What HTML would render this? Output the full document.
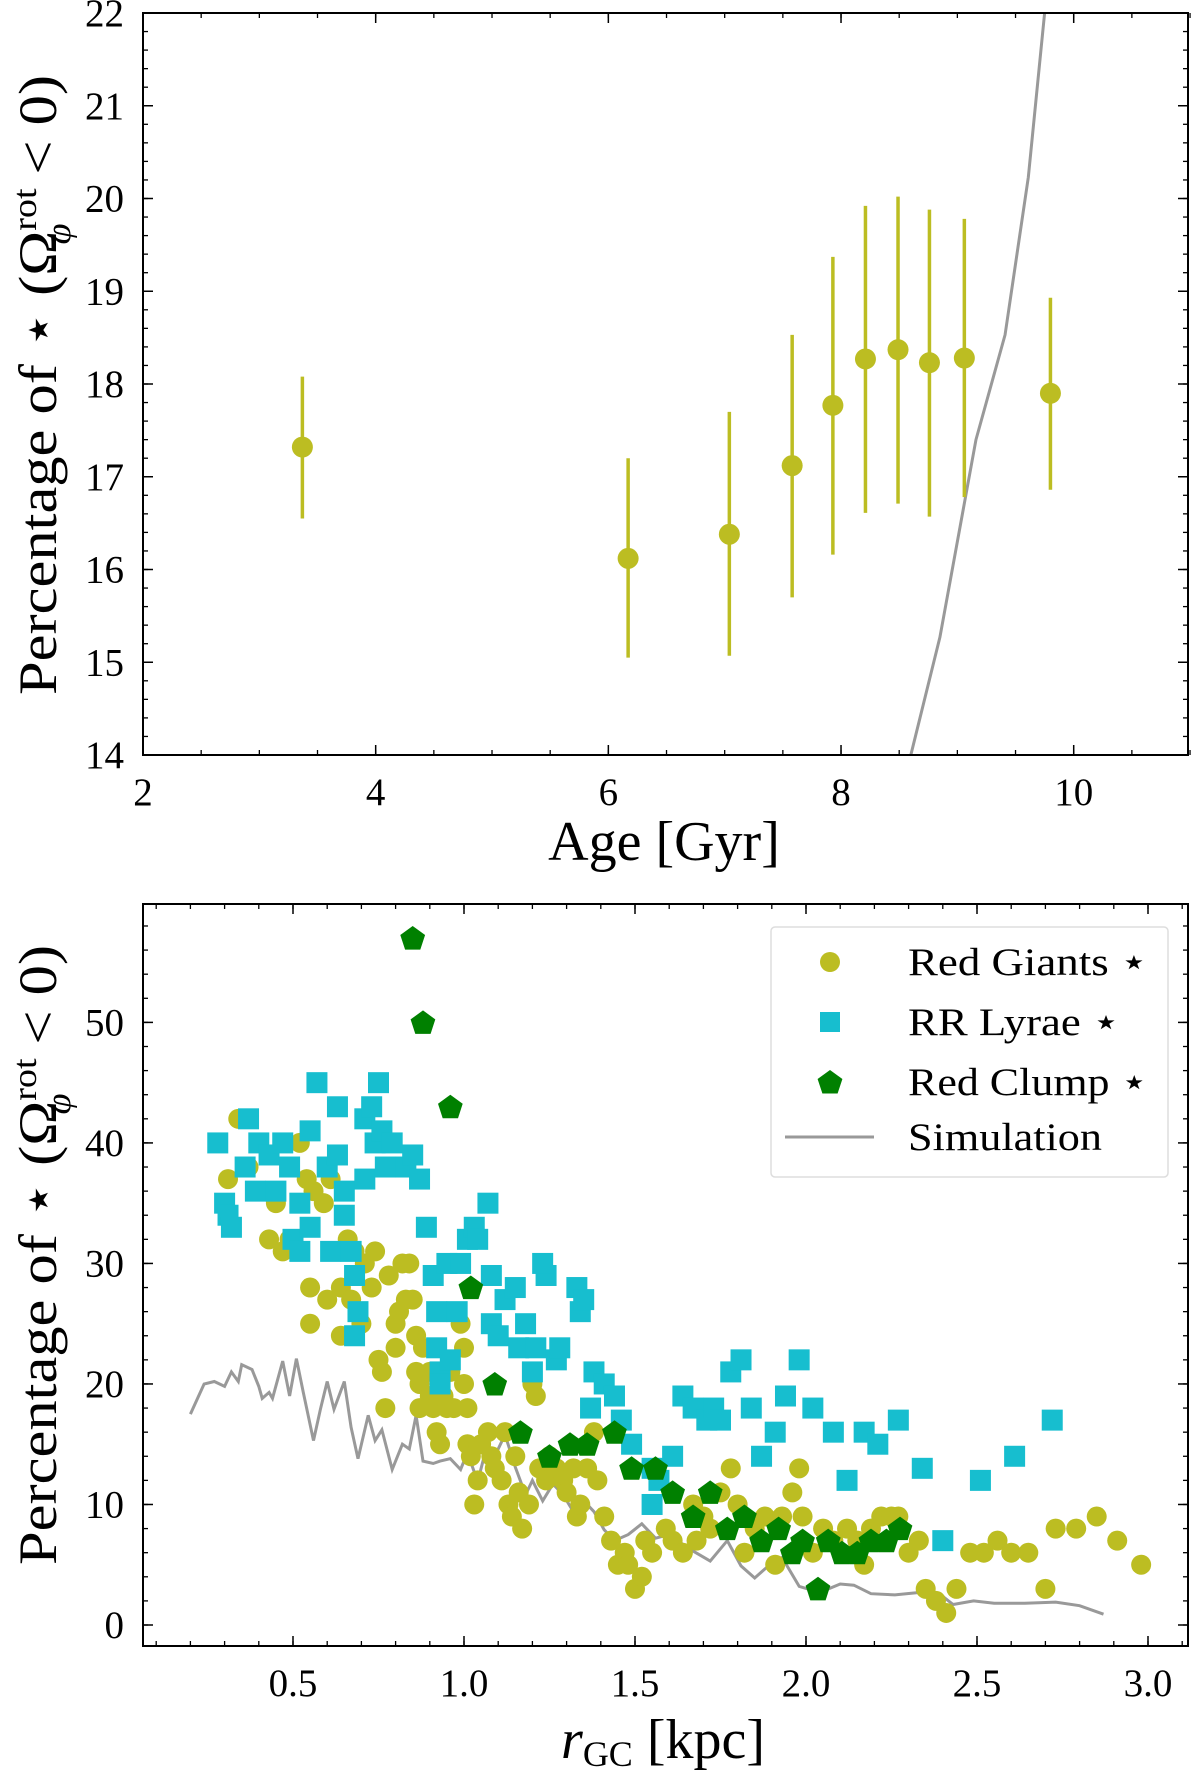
<!DOCTYPE html>
<html><head><meta charset="utf-8"><style>
html,body{margin:0;padding:0;background:#fff}
svg{display:block;font-family:"Liberation Serif","DejaVu Serif",serif}
</style></head><body>
<svg id="fig" width="1200" height="1773" viewBox="0 0 1200 1773" xmlns="http://www.w3.org/2000/svg">
<g id="top"></g>
<g id="bot"></g>
</svg>
<script>
// ---- Top panel data ----
const ageX = [3.37, 6.17, 7.04, 7.58, 7.93, 8.21, 8.49, 8.76, 9.06, 9.80];
const ageY = [17.32, 16.12, 16.38, 17.12, 17.77, 18.27, 18.37, 18.23, 18.28, 17.9];
const ageLo = [16.55, 15.05, 15.07, 15.7, 16.16, 16.61, 16.71, 16.57, 16.78, 16.86];
const ageHi = [18.08, 17.2, 17.7, 18.53, 19.37, 19.92, 20.02, 19.88, 19.78, 18.93];
const simAgeX = [8.6, 8.85, 9.16, 9.41, 9.61, 9.75];
const simAgeY = [14.0, 15.27, 17.4, 18.53, 20.23, 22.0];
const topXTicks = [2, 4, 6, 8, 10];
const topYTicks = [14, 15, 16, 17, 18, 19, 20, 21, 22];

// ---- Bottom panel data ----
const rgX = [0.31,0.34,0.37,0.43,0.45,0.47,0.49,0.52,0.54,0.55,0.55,0.56,0.59,0.60,0.61,0.63,0.64,0.64,0.66,0.67,0.68,0.70,0.71,0.73,0.74,0.75,0.76,0.77,0.78,0.80,0.80,0.81,0.82,0.83,0.84,0.85,0.86,0.86,0.87,0.87,0.88,0.90,0.90,0.91,0.92,0.93,0.94,0.95,0.96,0.97,0.99,1.00,1.00,1.01,1.01,1.02,1.03,1.04,1.05,1.07,1.08,1.09,1.11,1.12,1.13,1.14,1.15,1.16,1.17,1.19,1.20,1.21,1.22,1.24,1.25,1.27,1.29,1.30,1.32,1.33,1.34,1.36,1.38,1.39,1.41,1.43,1.45,1.47,1.48,1.50,1.52,1.53,1.55,1.59,1.61,1.64,1.67,1.68,1.70,1.72,1.75,1.78,1.80,1.82,1.85,1.88,1.91,1.93,1.96,1.98,1.99,2.02,2.05,2.08,2.12,2.15,2.17,2.19,2.22,2.25,2.27,2.30,2.33,2.35,2.38,2.41,2.44,2.48,2.52,2.56,2.60,2.65,2.70,2.73,2.79,2.85,2.91,2.98];
const rgY = [37,42,38,32,35,31,32,40,37,28,25,36,35,27,37,31,28,24,32,27,31,25,30,28,31,22,21,18,29,25,23,26,30,27,30,27,24,21,18,20,23,21,19,18,16,15,19,18,21,18,25,23,20,18,15,14,10,12,15,16,14,13,12,16,10,9,14,11,8,10,20,19,13,12,14,13,12,11,13,9,10,13,16,12,9,7,5,6,5,3,4,7,6,8,7,6,10,7,9,8,11,13,10,6,8,9,5,9,11,13,9,6,8,7,8,7,5,8,9,9,9,6,7,3,2,1,3,6,6,7,6,6,3,8,8,9,7,5];
const rrX = [0.28,0.30,0.31,0.32,0.36,0.37,0.40,0.43,0.39,0.45,0.47,0.49,0.50,0.52,0.55,0.52,0.55,0.57,0.60,0.61,0.63,0.63,0.65,0.65,0.67,0.68,0.69,0.68,0.71,0.71,0.73,0.75,0.74,0.76,0.77,0.79,0.83,0.85,0.87,0.89,0.91,0.92,0.92,0.93,0.93,0.96,0.95,0.98,0.99,1.01,1.03,1.04,1.07,1.08,1.08,1.10,1.12,1.15,1.18,1.20,1.16,1.21,1.24,1.23,1.27,1.28,1.33,1.34,1.35,1.38,1.41,1.37,1.44,1.46,1.49,1.55,1.55,1.57,1.61,1.64,1.67,1.71,1.73,1.75,1.78,1.81,1.84,1.87,1.91,1.94,1.98,2.02,2.08,2.12,2.17,2.21,2.27,2.34,2.40,2.51,2.61,2.72];
const rrY = [40,35,34,33,38,42,40,39,36,36,40,38,32,35,33,31,41,45,38,31,43,39,36,34,31,29,26,24,42,37,43,45,40,41,38,40,38,39,37,33,29,26,23,21,20,22,30,26,30,32,33,32,35,29,25,24,27,28,25,21,23,23,29,30,22,23,28,26,27,21,20,18,19,17,15,13,10,12,14,19,18,17,18,17,21,22,18,14,16,19,22,18,16,12,16,15,17,13,7,12,14,17];
const rcX = [0.85,0.88,0.96,1.02,1.09,1.165,1.25,1.31,1.36,1.44,1.49,1.56,1.61,1.67,1.72,1.77,1.82,1.87,1.92,1.96,1.99,2.035,2.065,2.105,2.15,2.19,2.235,2.275];
const rcY = [57,50,43,28,20,16,14,15,15,16,13,13,11,9,11,8,9,7,8,6,7,3,7,6,6,7,7,8];
const simRX = [0.20,0.24,0.27,0.30,0.32,0.34,0.35,0.38,0.40,0.41,0.43,0.44,0.47,0.49,0.51,0.53,0.56,0.58,0.60,0.62,0.65,0.67,0.69,0.72,0.74,0.76,0.79,0.82,0.84,0.86,0.88,0.91,0.93,0.96,0.99,1.01,1.04,1.06,1.10,1.12,1.15,1.18,1.20,1.23,1.26,1.29,1.32,1.34,1.38,1.41,1.44,1.48,1.52,1.56,1.60,1.66,1.72,1.77,1.81,1.85,1.89,1.93,1.98,2.04,2.10,2.14,2.19,2.26,2.33,2.39,2.43,2.49,2.55,2.64,2.73,2.80,2.87];
const simRY = [17.5,20,20.2,19.8,21,20.2,21.6,21.2,19.8,18.8,19.3,18.8,21.9,19,22.1,19.3,15.3,17.9,20.2,17.9,20.2,16.4,13.8,17.4,15.3,16.2,12.9,15,14.6,17.4,13.6,13.4,13.6,13.8,12.9,14.3,11.9,14.1,14.6,15.8,13.1,10.8,12,10.3,11.7,10.8,9.4,10.6,9.4,7.9,7,7.5,8.4,7.2,7.5,6.3,5.3,7,4.9,3.9,4.9,5.6,3.2,2.7,3.4,3.3,2.6,2.5,2.7,2.6,1.7,2,1.8,1.8,1.9,1.6,0.9];
const botXTicks = [0.5, 1.0, 1.5, 2.0, 2.5, 3.0];
const botYTicks = [0, 10, 20, 30, 40, 50];

const NS = "http://www.w3.org/2000/svg";
function mk(parent, tag, attrs, text) {
  const el = document.createElementNS(NS, tag);
  for (const k in attrs) el.setAttribute(k, attrs[k]);
  if (text !== undefined) el.textContent = text;
  parent.appendChild(el);
  return el;
}
const OLIVE = "#bcbd22", CYAN = "#17becf", GREEN = "#008000", GREY = "#999999";

function lin(d0, d1, p0, p1) { return v => p0 + (v - d0) * (p1 - p0) / (d1 - d0); }

function frame(g, L, T, R, B, xs, ys, xMin, xMax, xMinorStep, yMin, yMax, yMinorStep, xt, yt, xfmt) {
  for (let v = Math.ceil(xMin / xMinorStep) * xMinorStep; v <= xMax + 1e-9; v += xMinorStep) {
    const x = xs(v);
    let t = mk(g, "line", {x1: x, x2: x, y1: B, y2: B - 5, stroke: "#000", "stroke-width": 1.3});
     
    t = mk(g, "line", {x1: x, x2: x, y1: T, y2: T + 5, stroke: "#000", "stroke-width": 1.3});
     
  }
  for (let v = Math.ceil(yMin / yMinorStep) * yMinorStep; v <= yMax + 1e-9; v += yMinorStep) {
    const y = ys(v);
    let t = mk(g, "line", {x1: L, x2: L + 5, y1: y, y2: y, stroke: "#000", "stroke-width": 1.3});
     
    t = mk(g, "line", {x1: R, x2: R - 5, y1: y, y2: y, stroke: "#000", "stroke-width": 1.3});
     
  }
  xt.forEach(v => {
    const x = xs(v);
    let t = mk(g, "line", {x1: x, x2: x, y1: B, y2: B - 10, stroke: "#000", "stroke-width": 1.5});
     
    t = mk(g, "line", {x1: x, x2: x, y1: T, y2: T + 10, stroke: "#000", "stroke-width": 1.5});
     
    t = mk(g, "text", {x: x, y: B + 50, "text-anchor": "middle", "font-size": 39}, xfmt(v));
     
  });
  yt.forEach(v => {
    const y = ys(v);
    let t = mk(g, "line", {x1: L, x2: L + 10, y1: y, y2: y, stroke: "#000", "stroke-width": 1.5});
     
    t = mk(g, "line", {x1: R, x2: R - 10, y1: y, y2: y, stroke: "#000", "stroke-width": 1.5});
     
    t = mk(g, "text", {x: L - 19, y: y + 13, "text-anchor": "end", "font-size": 39}, String(v));
     
  });
}

function ylabel(g, cx, cy, len) {
  const t = mk(g, "text", {transform: `translate(${cx},${cy}) rotate(-90)`, "text-anchor": "middle", "font-size": 54, textLength: len, lengthAdjust: "spacingAndGlyphs"});
   
  t.appendChild(document.createTextNode("Percentage of \u22C6 (\u03A9"));
  mk(t, "tspan", {"font-size": 34, dy: -20}, "rot");
  mk(t, "tspan", {"font-size": 34, dy: 34, dx: -50, "font-style": "italic"}, "\u03C6");
  mk(t, "tspan", {dy: -14, dx: 30}, " < 0)");
}

function pent(cx, cy, r) {
  let pts = [];
  for (let i = 0; i < 5; i++) { const a = -Math.PI / 2 + i * 2 * Math.PI / 5; pts.push((cx + r * Math.cos(a)).toFixed(1) + "," + (cy + r * Math.sin(a)).toFixed(1)); }
  return pts.join(" ");
}

// ---- Top panel ----
(function () {
  const g = document.getElementById("top");
  const L = 143, R = 1188, T = 13, B = 755;
  const xs = lin(2, 11, L, L + 9 * (1073.7 - 143) / 8);
  const ys = lin(14, 22, B, T);
  mk(g, "defs", {}).innerHTML = `<clipPath id="ct"><rect x="${L}" y="${T}" width="${R - L}" height="${B - T}"/></clipPath>`;
  const pg = mk(g, "g", {"clip-path": "url(#ct)"});
  const sim = mk(pg, "polyline", {points: simAgeX.map((v, i) => xs(v) + "," + ys(simAgeY[i])).join(" "), fill: "none", stroke: GREY, "stroke-width": 3});
   
  ageX.forEach((v, i) => {
    const e = mk(pg, "line", {x1: xs(v), x2: xs(v), y1: ys(ageLo[i]), y2: ys(ageHi[i]), stroke: OLIVE, "stroke-width": 3.5});
     
    const c = mk(pg, "circle", {cx: xs(v), cy: ys(ageY[i]), r: 10.5, fill: OLIVE});
     
  });
  const fr = mk(g, "rect", {x: L, y: T, width: R - L, height: B - T, fill: "none", stroke: "#000", "stroke-width": 2});
   
  frame(g, L, T, R, B, xs, ys, 2, 11, 0.5, 14, 22, 0.2, topXTicks, topYTicks, v => String(v));
  const xl = mk(g, "text", {x: 664, y: 860, "text-anchor": "middle", "font-size": 56}, "Age [Gyr]");
   
  ylabel(g, 56, 385, 620);
})();

// ---- Bottom panel ----
(function () {
  const g = document.getElementById("bot");
  const L = 143, R = 1188, T = 904, B = 1646;
  const xs = lin(0.5, 3.0, 293, 1148);
  const ys = lin(0, 50, 1625, 1022.4);
  mk(g, "defs", {}).innerHTML = `<clipPath id="cb"><rect x="${L}" y="${T}" width="${R - L}" height="${B - T}"/></clipPath>`;
  const pg = mk(g, "g", {"clip-path": "url(#cb)"});
  const sim = mk(pg, "polyline", {points: simRX.map((v, i) => xs(v).toFixed(1) + "," + ys(simRY[i]).toFixed(1)).join(" "), fill: "none", stroke: GREY, "stroke-width": 3});
   
  rgX.forEach((v, i) => {
    const c = mk(pg, "circle", {cx: xs(v), cy: ys(rgY[i]), r: 10, fill: OLIVE});
     
  });
  rrX.forEach((v, i) => {
    const s = mk(pg, "rect", {x: xs(v) - 10.5, y: ys(rrY[i]) - 10.5, width: 21, height: 21, fill: CYAN});
     
  });
  rcX.forEach((v, i) => {
    const p = mk(pg, "polygon", {points: pent(xs(v), ys(rcY[i]) + 1, 13), fill: GREEN});
     
  });
  const fr = mk(g, "rect", {x: L, y: T, width: R - L, height: B - T, fill: "none", stroke: "#000", "stroke-width": 2});
   
  frame(g, L, T, R, B, xs, ys, 0.07, 3.11, 0.1, -1.7, 59.7, 2, botXTicks, botYTicks, v => v.toFixed(1));
  // legend
  const lg = mk(g, "g", {});
   
  mk(lg, "rect", {x: 771, y: 927, width: 397, height: 250, rx: 4, fill: "#fff", "fill-opacity": 0.85, stroke: "#ddd", "stroke-width": 1.5});
  const items = [["Red Giants \u22C6", 962, 240], ["RR Lyrae \u22C6", 1022, 212], ["Red Clump \u22C6", 1082, 240], ["Simulation", 1137, 194]];
  let e = mk(lg, "circle", {cx: 830, cy: 962, r: 10, fill: OLIVE});
   
  e = mk(lg, "rect", {x: 820, y: 1012, width: 20, height: 20, fill: CYAN});
   
  e = mk(lg, "polygon", {points: pent(830, 1083, 13), fill: GREEN});
   
  e = mk(lg, "line", {x1: 785, x2: 874, y1: 1137, y2: 1137, stroke: GREY, "stroke-width": 3});
   
  items.forEach(it => {
    const t = mk(lg, "text", {x: 908, y: it[1] + 13, "font-size": 39, textLength: it[2], lengthAdjust: "spacingAndGlyphs"}, it[0]);
     
  });
  const xl = mk(g, "text", {x: 663, y: 1758, "text-anchor": "middle", "font-size": 56});
   
  mk(xl, "tspan", {"font-style": "italic"}, "r");
  mk(xl, "tspan", {"font-size": 36, dy: 8}, "GC");
  mk(xl, "tspan", {dy: -8}, " [kpc]");
  ylabel(g, 56, 1255, 620);
})();
</script>
</body></html>
